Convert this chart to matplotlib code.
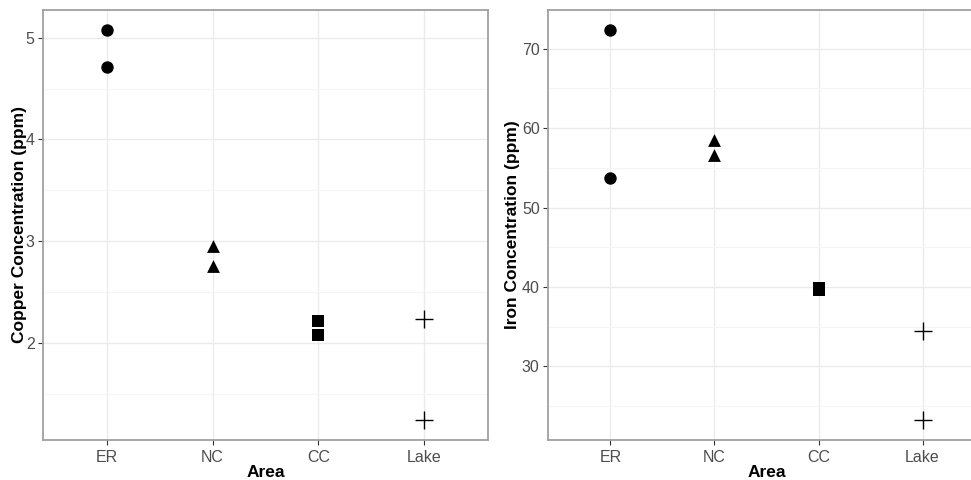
import matplotlib
matplotlib.use("Agg")
import matplotlib.pyplot as plt
import numpy as np

plt.rcParams['font.family'] = ['Liberation Sans', 'DejaVu Sans']

# data
areas = ["ER", "ER", "NC", "NC", "CC", "CC", "Lake", "Lake"]
copper = [5.08, 4.71, 2.95, 2.76, 2.22, 2.08, 2.24, 1.24]
iron = [72.4, 53.7, 58.5, 56.6, 39.9, 39.6, 34.4, 23.2]
area_order = ["ER", "NC", "CC", "Lake"]
shapes = {"ER": "o", "NC": "^", "CC": "s", "Lake": "+"}
sizes = {"o": 80, "^": 85, "s": 70, "+": 170}


def draw_panel(ax, values, ylabel, major, minor, label_x):
    xpos = [area_order.index(a) for a in areas]
    for area in area_order:
        idx = [i for i, a in enumerate(areas) if a == area]
        m = shapes[area]
        ax.scatter([xpos[i] for i in idx], [values[i] for i in idx],
                   marker=m, s=sizes[m], color="black",
                   linewidths=1.0 if m == "+" else 0, zorder=3)

    lo, hi = min(values), max(values)
    pad = (hi - lo) * 0.05
    ax.set_ylim(lo - pad, hi + pad)
    ax.set_xlim(-0.6, len(area_order) - 1 + 0.6)

    ax.set_xticks(range(len(area_order)))
    ax.set_xticklabels(area_order)
    ax.set_yticks(major)
    ax.set_yticks(minor, minor=True)

    ax.grid(True, which="major", color="#EBEBEB", lw=1.0, zorder=0)
    ax.grid(True, which="minor", axis="y", color="#F5F5F5", lw=0.8, zorder=0)
    ax.set_axisbelow(True)

    ax.tick_params(which="major", length=3.5, width=0.8, color="#333333",
                   labelsize=11.5, labelcolor="#4D4D4D", pad=2.5)
    ax.tick_params(axis="x", which="major", pad=3.5)
    ax.tick_params(which="minor", length=0)
    for s in ax.spines.values():
        s.set_color("#A0A0A0")
        s.set_linewidth(1.3)

    ax.set_xlabel("Area", fontsize=12.5, fontweight="bold", labelpad=0.5)
    ax.set_ylabel(ylabel, fontsize=12.5, fontweight="bold", va="center")
    ax.yaxis.set_label_coords(label_x, 0.5)


fig = plt.figure(figsize=(9.71, 4.80), dpi=100)
W, H = 971, 480
ax1 = fig.add_axes([43 / W, 1 - 440 / H, 445 / W, 430 / H])
ax2 = fig.add_axes([548 / W, 1 - 440 / H, 437 / W, 430 / H])

draw_panel(ax1, copper, "Copper Concentration (ppm)",
           [2, 3, 4, 5], [1.5, 2.5, 3.5, 4.5], -23 / 445)
draw_panel(ax2, iron, "Iron Concentration (ppm)",
           [30, 40, 50, 60, 70], [25, 35, 45, 55, 65], -35 / 437)

fig.savefig("out.png", dpi=100)
